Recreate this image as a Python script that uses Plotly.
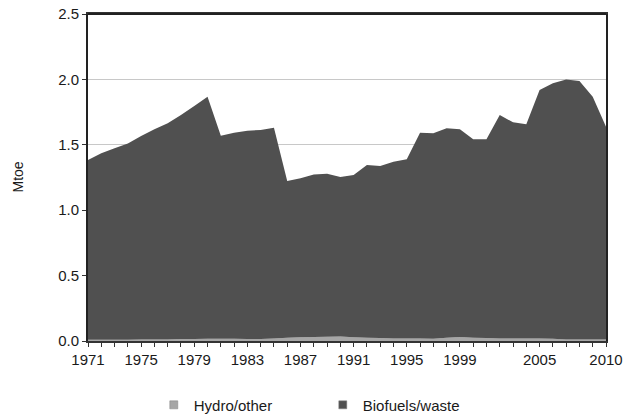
import plotly.graph_objects as go

years = list(range(1971, 2011))
hydro = [0.010, 0.010, 0.010, 0.010, 0.012, 0.012, 0.012, 0.015, 0.015, 0.018,
         0.018, 0.018, 0.015, 0.015, 0.020, 0.025, 0.028, 0.030, 0.032, 0.035,
         0.028, 0.025, 0.022, 0.020, 0.020, 0.020, 0.018, 0.025, 0.030, 0.025,
         0.022, 0.020, 0.020, 0.020, 0.020, 0.018, 0.012, 0.012, 0.012, 0.012]
biofuels_total = [1.384, 1.435, 1.473, 1.51, 1.567, 1.618, 1.664, 1.728, 1.797, 1.868,
                  1.57, 1.593, 1.608, 1.613, 1.631, 1.223, 1.244, 1.272, 1.279, 1.254,
                  1.269, 1.346, 1.338, 1.371, 1.389, 1.593, 1.588, 1.626, 1.618, 1.542,
                  1.542, 1.728, 1.672, 1.657, 1.919, 1.97, 2.0, 1.988, 1.868, 1.638]
biofuels = [round(t - h, 3) for t, h in zip(biofuels_total, hydro)]

tick_years = [1971, 1975, 1979, 1983, 1987, 1991, 1995, 1999, 2005, 2010]
tick_labels = [str(y) for y in tick_years]
y_ticks = [0.0, 0.5, 1.0, 1.5, 2.0, 2.5]

names = ["Hydro/other", "Biofuels/waste"]
colors = ["#a6a6a6", "#505050"]

fig = go.Figure()
for name, vals, col in zip(names, [hydro, biofuels], colors):
    fig.add_trace(go.Scatter(x=years, y=vals, name=name, stackgroup="one",
                             mode="none", fillcolor=col, showlegend=False,
                             hoverinfo="x+y"))
for name, col in zip(names, colors):
    fig.add_trace(go.Scatter(x=[None], y=[None], name=name, mode="markers",
                             marker=dict(symbol="square", size=8, color=col,
                                         line=dict(color="#808080", width=0.5)),
                             showlegend=True))

font = "Liberation Sans, Arial, sans-serif"
fig.update_layout(
    width=623, height=415,
    margin=dict(l=88, r=17, t=14, b=74, autoexpand=False),
    paper_bgcolor="white", plot_bgcolor="white",
    font=dict(family=font, size=15, color="#1a1a1a"),
    legend=dict(orientation="h", x=0.127, xanchor="left", y=-0.196, yanchor="middle",
                font=dict(size=15, color="#1a1a1a"), itemwidth=30,
                entrywidth=124, tracegroupgap=0, traceorder="normal"),
    xaxis=dict(range=[1971, 2010], tickmode="array", tickvals=tick_years,
               ticktext=tick_labels, ticks="outside", ticklen=4, tickcolor="#333333",
               showgrid=False, showline=True, linecolor="#333333", linewidth=1.5,
               mirror=True, zeroline=False, automargin=False, ticklabeloverflow="allow",
               minor=dict(tickmode="linear", tick0=1971, dtick=1, ticks="outside",
                          ticklen=4, tickcolor="#333333", showgrid=False)),
    yaxis=dict(range=[0, 2.5], tickmode="array", tickvals=y_ticks,
               ticktext=["0.0", "0.5", "1.0", "1.5", "2.0", "2.5"],
               ticks="outside", ticklen=4, tickcolor="#333333",
               showgrid=True, gridcolor="#c8c8c8", gridwidth=1,
               showline=True, linecolor="#222222", linewidth=2, mirror=True,
               zeroline=False, automargin=False, ticklabeloverflow="allow"),
    shapes=[dict(type="line", xref="paper", yref="paper", x0=0, x1=1, y0=1, y1=1,
                 line=dict(color="#222222", width=2), layer="above")],
    annotations=[dict(text="Mtoe", xref="paper", yref="paper", x=-0.137, y=0.5,
                      xanchor="center", yanchor="middle", textangle=-90,
                      showarrow=False, font=dict(size=14, color="#1a1a1a"))],
)

fig.write_html("out.html", config={"displayModeBar": False},
               post_script="document.body.style.margin='0px';")
